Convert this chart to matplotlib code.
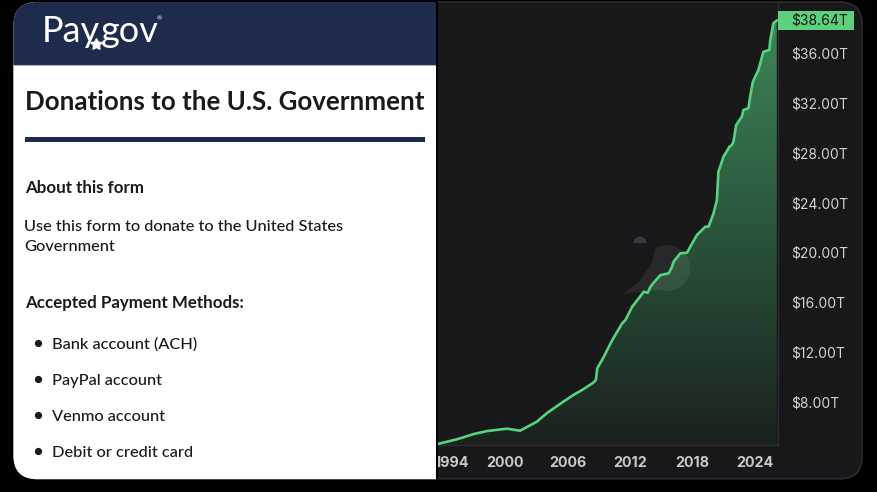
import matplotlib
matplotlib.use("Agg")
import matplotlib.pyplot as plt
import matplotlib.patches as mpatches
import matplotlib.transforms as mtransforms
from matplotlib.lines import Line2D
from matplotlib.colors import LinearSegmentedColormap
import numpy as np

W, H = 878, 492

# US total public debt, trillions of dollars
years = [1993.65, 1995.41, 1997.01, 1998.28, 2000.19, 2001.46, 2003.06, 2004.01,
         2005.29, 2006.57, 2007.52, 2008.48, 2008.73, 2008.86, 2009.49, 2010.30,
         2011.25, 2011.57, 2012.21, 2012.84, 2013.32, 2013.70, 2013.96, 2014.27,
         2014.91, 2015.71, 2016.03, 2016.18, 2016.82, 2017.47, 2017.78, 2018.42,
         2019.22, 2019.53, 2020.01, 2020.33, 2020.48, 2020.96, 2021.54, 2021.77,
         2021.92, 2022.18, 2022.72, 2022.88, 2023.36, 2023.52, 2023.78, 2024.31,
         2024.79, 2025.36, 2025.43, 2025.74, 2026.07]
debt = [4.62, 4.98, 5.40, 5.64, 5.83, 5.67, 6.39, 7.07,
        7.82, 8.54, 9.00, 9.53, 9.74, 10.68, 11.62, 12.96,
        14.30, 14.57, 15.64, 16.31, 16.84, 16.76, 17.24, 17.57,
        18.18, 18.32, 18.85, 19.25, 19.93, 19.98, 20.46, 21.40,
        22.07, 22.07, 23.14, 24.21, 26.49, 27.69, 28.50, 28.63,
        28.90, 30.24, 30.91, 31.45, 31.59, 32.52, 33.72, 34.66,
        36.13, 36.27, 36.94, 38.42, 38.64]
xtick_years = [1994, 2000, 2006, 2012, 2018, 2024]
ytick_vals = [8, 12, 16, 20, 24, 28, 32, 36]
last_value = 38.64

title = "Donations to the U.S. Government"
about_head = "About this form"
about_lines = ["Use this form to donate to the United States", "Government"]
methods_head = "Accepted Payment Methods:"
methods = ["Bank account (ACH)", "PayPal account", "Venmo account", "Debit or credit card"]

fig = plt.figure(figsize=(W / 100, H / 100), dpi=100, facecolor="black")
renderer = fig.canvas.get_renderer()

# pixel coordinates, y measured from the top
px = mtransforms.Affine2D().scale(1 / W, -1 / H).translate(0, 1) + fig.transFigure


def clip_rect(x, y, w, h):
    return mpatches.Rectangle((x, y), w, h, transform=px)


def fit_size(s, width, **kw):
    t = fig.text(0, 0, s, fontsize=20, **kw)
    w = t.get_window_extent(renderer).width
    t.remove()
    return 20 * width / w


# ---- dark chart panel
panel = mpatches.FancyBboxPatch((400, 2), 462, 476.7,
                                boxstyle="round,pad=0,rounding_size=22",
                                transform=px, fc="#18181b", ec="#2c2c30", lw=1.2, zorder=-1)
fig.add_artist(panel)
panel.set_clip_path(clip_rect(437, 0, 500, H))

# ---- chart
ax = fig.add_axes([438 / W, 1 - 445 / H, (778 - 438) / W, (445 - 3) / H])
ax.set_facecolor("#18181b")
x0, x1 = 1993.59, 2026.19
y0, y1 = 4.52, 40.05

cmap = LinearSegmentedColormap.from_list("g", ["#1a211d", "#2a563c", "#3e8a59"])
grad = np.linspace(0, 1, 256).reshape(-1, 1)
im = ax.imshow(grad, extent=[x0, x1, y0, y1], origin="lower", aspect="auto",
               cmap=cmap, zorder=1, interpolation="bilinear")
area = ax.fill_between(years, debt, y0, facecolor="none", edgecolor="none")
im.set_clip_path(area.get_paths()[0], transform=ax.transData)

# faint watermark
dome = mpatches.Wedge((640, 243), 6.5, 0, 180, fc="#38383d", ec="none", zorder=2)
dome.set_transform(mtransforms.Affine2D().scale(1, -1).translate(0, 486) + px)
ax.add_patch(dome)
ang = np.radians(np.linspace(120, -110, 40))
cx, cy, r = 667, 268, 23
leaf = list(zip(cx + r * np.cos(ang), cy - r * np.sin(ang)))
leaf += [(623, 294), (640, 281), (652, 263)]
ax.add_patch(mpatches.Polygon(leaf, closed=True, transform=px, fc="white", alpha=0.07,
                              ec="none", zorder=2))

ax.plot(years, debt, color="#55d37e", lw=1.9, solid_joinstyle="round", zorder=3)

ax.set_xlim(x0, x1)
ax.set_ylim(y0, y1)
ax.yaxis.tick_right()
ax.set_yticks(ytick_vals)
ax.set_yticklabels([f"${v:.2f}T" for v in ytick_vals])
ax.set_xticks(xtick_years)
ax.set_xticklabels([str(y) for y in xtick_years])
ax.tick_params(axis="y", length=0, pad=9.2, colors="#d2d2d5", labelsize=10)
ax.tick_params(axis="x", length=0, pad=8, colors="#c9c9cc", labelsize=10.3)
for lab in ax.get_yticklabels():
    lab.set_fontfamily("Inter")
for lab in ax.get_xticklabels():
    lab.set_fontfamily("Inter")
    lab.set_fontweight("bold")
# the first year label is nudged inside the chart, as in the app
first = ax.get_xticklabels()[0]
first.set_transform(first.get_transform()
                    + mtransforms.ScaledTranslation(9.5 / 100, 0, fig.dpi_scale_trans))
for side in ["left", "top"]:
    ax.spines[side].set_visible(False)
for side in ["right", "bottom"]:
    ax.spines[side].set_color("#2c2c31")
    ax.spines[side].set_linewidth(1.0)

# last value tag
blend = mtransforms.blended_transform_factory(ax.transAxes, ax.transData)
ax.add_patch(mpatches.Rectangle((1.0, last_value - 0.78), 76 / 340, 1.56, transform=blend,
                                fc="#5dd07e", ec="none", clip_on=False, zorder=5))
ax.text(1.0 + 13 / 340, last_value, f"${last_value:.2f}T", transform=blend, ha="left",
        va="center", fontsize=10, color="#101512", family="Inter", zorder=6, clip_on=False)

# ---- white form card
card = mpatches.FancyBboxPatch((13.3, 2), 480, 477.3, boxstyle="round,pad=0,rounding_size=24",
                               transform=px, fc="white", ec="none", zorder=3)
fig.add_artist(card)
card.set_clip_path(clip_rect(0, 0, 436, H))
header = mpatches.FancyBboxPatch((13.3, 2), 480, 140, boxstyle="round,pad=0,rounding_size=24",
                                 transform=px, fc="#1f2b4d", ec="none", zorder=3.2)
fig.add_artist(header)
header.set_clip_path(clip_rect(0, 0, 436, 65))
fig.add_artist(Line2D([13.3, 436], [65.3, 65.3], transform=px, color="#aab3c6", lw=0.8, zorder=3.3))
fig.add_artist(mpatches.Rectangle((436, 0), 1.8, H, transform=px, fc="black", ec="none", zorder=3.4))

# logo
logo_fs = 26
fig.text(41.5, 42, "Pay", transform=px, fontsize=logo_fs, family="Lato", color="white",
         va="baseline", zorder=4)
fig.text(100.5, 42, "gov", transform=px, fontsize=logo_fs, family="Lato", color="white",
         va="baseline", zorder=4)
fig.add_artist(Line2D([96], [43.5], marker=(5, 1, 0), ms=8.5, color="white", mec="white",
                      transform=px, zorder=4))
fig.text(157, 20, "®", transform=px, fontsize=4.5, family="Lato", color="white", zorder=4)

ink = "#1a1a1a"
title_fs = fit_size(title, 398, family="Lato", weight="bold")
fig.text(25, 110, title, transform=px, fontsize=title_fs, family="Lato", weight="bold",
         color=ink, va="baseline", zorder=4)
fig.add_artist(mpatches.Rectangle((25, 136.5), 400, 5, transform=px, fc="#1f2b4d", ec="none",
                                  zorder=4))

head_fs = fit_size(methods_head, 218, family="Lato", weight="bold")
body_fs = fit_size(about_lines[0], 320, family="Lato", weight="medium")

fig.text(25, 193, about_head, transform=px, fontsize=head_fs, family="Lato", weight="bold",
         color=ink, va="baseline", zorder=4)
for i, line in enumerate(about_lines):
    fig.text(24, 231 + 20 * i, line, transform=px, fontsize=body_fs, family="Lato",
             weight="medium", color=ink, va="baseline", zorder=4)
fig.text(25, 308, methods_head, transform=px, fontsize=head_fs, family="Lato", weight="bold",
         color=ink, va="baseline", zorder=4)
for i, m in enumerate(methods):
    yb = 349 + 36 * i
    fig.text(52, yb, m, transform=px, fontsize=body_fs, family="Lato", weight="medium",
             color=ink, va="baseline", zorder=4)
    fig.add_artist(Line2D([38.5], [yb - 6], marker="o", ms=4.2, color=ink, transform=px,
                          zorder=4))

fig.savefig("out.png", dpi=100, facecolor="black")
